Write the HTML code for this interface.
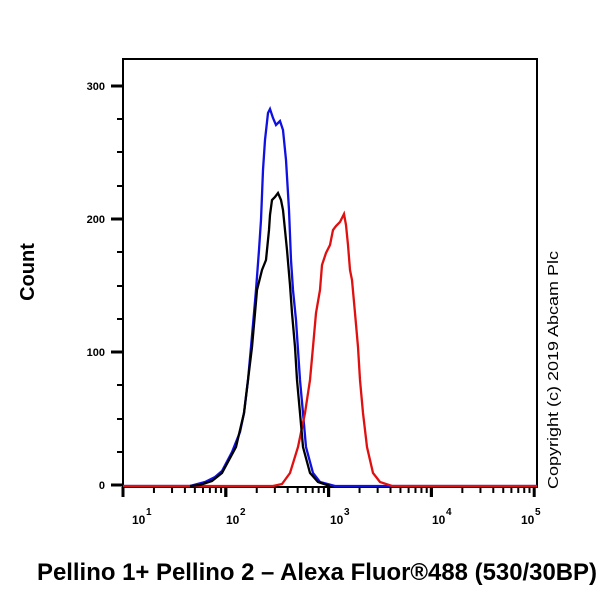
<!DOCTYPE html>
<html><head><style>
body{margin:0;background:#fff;width:600px;height:600px;overflow:hidden}
</style></head><body>
<svg width="600" height="600" xmlns="http://www.w3.org/2000/svg" font-family="Liberation Sans, Arial, sans-serif">
<rect width="600" height="600" fill="#fff"/>
<path d="M123,487 L123,59 L537,59 L537,487" fill="none" stroke="#000" stroke-width="2"/>
<line x1="122" y1="487" x2="538" y2="487" stroke="#000" stroke-width="2"/>
<g stroke="#000" stroke-width="2">
<line x1="111" y1="86" x2="123" y2="86" stroke-width="3"/>
<line x1="111" y1="219" x2="123" y2="219" stroke-width="3"/>
<line x1="111" y1="352" x2="123" y2="352" stroke-width="3"/>
<line x1="111" y1="485" x2="123" y2="485" stroke-width="3"/>
<line x1="117" y1="119" x2="123" y2="119"/><line x1="117" y1="152" x2="123" y2="152"/><line x1="117" y1="186" x2="123" y2="186"/>
<line x1="117" y1="252" x2="123" y2="252"/><line x1="117" y1="286" x2="123" y2="286"/><line x1="117" y1="319" x2="123" y2="319"/>
<line x1="117" y1="385" x2="123" y2="385"/><line x1="117" y1="419" x2="123" y2="419"/><line x1="117" y1="452" x2="123" y2="452"/>
</g>
<g font-size="11" font-weight="bold" text-anchor="end" fill="#000">
<text x="105" y="90">300</text><text x="105" y="223">200</text><text x="105" y="356">100</text><text x="105" y="489">0</text>
</g>
<g stroke="#000" stroke-width="2" id="xt"></g>
<g font-size="12" font-weight="bold" fill="#000">
<text x="132" y="524">10</text><text x="146" y="515" font-size="10">1</text>
<text x="226" y="524">10</text><text x="240" y="515" font-size="10">2</text>
<text x="330" y="524">10</text><text x="344" y="515" font-size="10">3</text>
<text x="432" y="524">10</text><text x="446" y="515" font-size="10">4</text>
<text x="521" y="524">10</text><text x="535" y="515" font-size="10">5</text>
</g>
<path d="M123,486 L190,486 L205,482 L215,477 L222,471 L232,452 L240,432 L244,413 L248,380 L251,347 L254,313 L256,290 L259,250 L261,220 L263,170 L265,140 L268,113 L270,109 L273,118 L276,125 L280,121 L283,130 L286,160 L289,210 L291,260 L293,290 L296,320 L298,350 L300,380 L303,413 L306,447 L313,473 L320,482 L335,486 L537,486" fill="none" stroke="#1010e0" stroke-width="2.3"/>
<path d="M123,486 L273,486 L282,484 L290,473 L298,447 L305,413 L310,380 L313,347 L316,313 L320,290 L322,265 L326,253 L330,245 L333,230 L336,226 L340,222 L344,214 L346,225 L348,245 L350,270 L352,280 L355,313 L358,347 L360,380 L363,413 L367,447 L373,473 L380,482 L392,486 L537,486" fill="none" stroke="#e01010" stroke-width="2.3"/>
<path d="M190,486 L200,485 L212,481 L222,473 L236,447 L244,413 L248,380 L252,347 L255,313 L257,290 L262,270 L266,260 L269,230 L270,215 L272,200 L275,197 L278,193 L281,200 L283,210 L287,250 L290,285 L292,313 L295,347 L297,380 L300,413 L303,447 L310,473 L318,482 L330,486" fill="none" stroke="#000" stroke-width="2.3"/>
<text x="0" y="0" transform="translate(34,272) rotate(-90)" font-size="20" font-weight="bold" text-anchor="middle">Count</text>
<text x="0" y="0" transform="translate(558,370) rotate(-90)" font-size="15" text-anchor="middle" textLength="238" lengthAdjust="spacingAndGlyphs">Copyright (c) 2019 Abcam Plc</text>
<text x="37" y="580" font-size="24" font-weight="bold" textLength="560" lengthAdjust="spacingAndGlyphs">Pellino 1+ Pellino 2 – Alexa Fluor®488 (530/30BP)</text>
</svg>
<script>
var g=document.getElementById('xt'),s='';
var x0=123,d=102.8;
for(var k=0;k<4;k++){for(var m=1;m<=10;m++){var x=x0+d*(k+Math.log10(m));var major=(m==1||m==10);
s+='<line x1="'+x+'" y1="487" x2="'+x+'" y2="'+(major?497:493)+'" stroke-width="'+(major?3:2)+'"/>';}}
g.innerHTML=s;
</script>
</body></html>
